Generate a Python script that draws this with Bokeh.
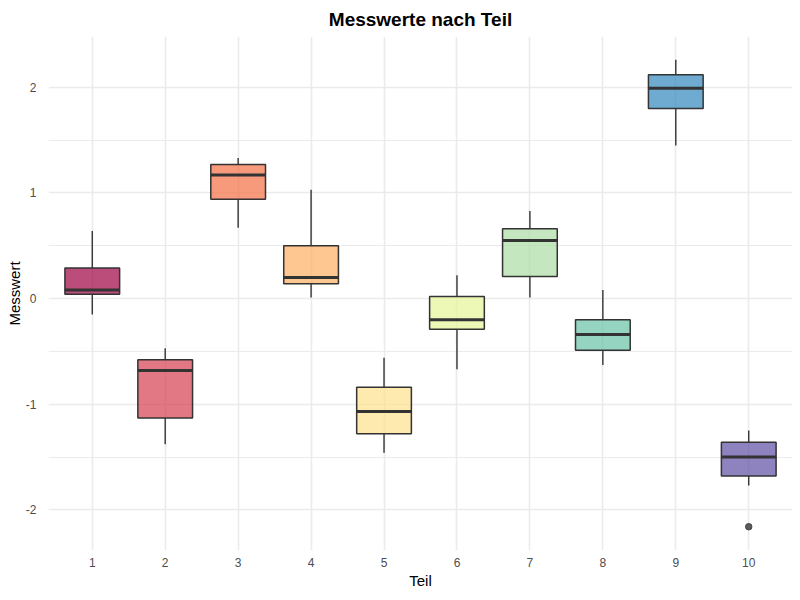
from bokeh.plotting import figure
from bokeh.models import Range1d, FixedTicker, ColumnDataSource, PrintfTickFormatter
from bokeh.embed import file_html
from bokeh.resources import INLINE

# Summary statistics per part (Teil)
teile = [1, 2, 3, 4, 5, 6, 7, 8, 9, 10]
whisker_low = [-0.15, -1.38, 0.67, 0.01, -1.46, -0.67, 0.01, -0.63, 1.45, -1.77]
q1 = [0.04, -1.13, 0.94, 0.14, -1.28, -0.29, 0.21, -0.49, 1.80, -1.68]
median = [0.08, -0.68, 1.17, 0.20, -1.07, -0.20, 0.55, -0.34, 1.99, -1.50]
q3 = [0.29, -0.58, 1.27, 0.50, -0.84, 0.02, 0.66, -0.20, 2.12, -1.36]
whisker_high = [0.64, -0.47, 1.33, 1.03, -0.56, 0.22, 0.83, 0.08, 2.26, -1.25]
outlier_teil = [10]
outlier_wert = [-2.16]
farben = ["#9E0142", "#D53E4F", "#F46D43", "#FDAE61", "#FEE08B",
          "#E6F598", "#ABDDA4", "#66C2A5", "#3288BD", "#5E4FA2"]

box_width = 0.75
half = box_width / 2

src = ColumnDataSource(dict(
    x=teile, low=whisker_low, q1=q1, med=median, q3=q3, high=whisker_high,
    left=[t - half for t in teile], right=[t + half for t in teile],
    color=farben,
))

p = figure(width=800, height=600, output_backend="svg", toolbar_location=None,
           x_range=Range1d(0.4, 10.6), y_range=Range1d(-2.385, 2.481),
           min_border_left=48, min_border_right=8, min_border_top=36,
           min_border_bottom=50)

p.background_fill_color = "white"
p.border_fill_color = "white"
p.outline_line_color = None

# Title
p.title.text = "Messwerte nach Teil"
p.title.align = "center"
p.title.text_font = "Liberation Sans"
p.title.text_font_size = "19px"
p.title.text_font_style = "bold"
p.title.text_color = "black"
p.title.standoff = 13

# Axes
for ax in (p.xaxis[0], p.yaxis[0]):
    ax.axis_line_color = None
    ax.major_tick_line_color = None
    ax.minor_tick_line_color = None
    ax.major_label_text_font = "Liberation Sans"
    ax.major_label_text_font_size = "12px"
    ax.major_label_text_color = "#4D4D4D"
    ax.axis_label_text_font = "Liberation Sans"
    ax.axis_label_text_font_size = "15px"
    ax.axis_label_text_font_style = "normal"
    ax.axis_label_text_color = "black"

p.xaxis.major_label_standoff = 1
p.xaxis.axis_label_standoff = 2
p.yaxis.major_label_standoff = 6
p.yaxis.axis_label_standoff = 0

p.xaxis.axis_label = "Teil"
p.yaxis.axis_label = "Messwert"
p.xaxis.ticker = FixedTicker(ticks=teile)
p.yaxis.ticker = FixedTicker(ticks=[-2, -1, 0, 1, 2], minor_ticks=[-2.5, -1.5, -0.5, 0.5, 1.5, 2.5])
p.yaxis.formatter = PrintfTickFormatter(format="%d")

# Grid
p.xgrid.grid_line_color = "#EBEBEB"
p.xgrid.grid_line_width = 1.6
p.ygrid.grid_line_color = "#EBEBEB"
p.ygrid.grid_line_width = 1.6
p.ygrid.minor_grid_line_color = "#EBEBEB"
p.ygrid.minor_grid_line_width = 1.0

# Whiskers
p.segment(x0="x", y0="q3", x1="x", y1="high", source=src, line_color="#333333", line_width=1.4)
p.segment(x0="x", y0="low", x1="x", y1="q1", source=src, line_color="#333333", line_width=1.4)

# Boxes
p.quad(left="left", right="right", bottom="q1", top="q3", source=src,
       fill_color="color", fill_alpha=0.7, line_color="#333333", line_width=1.5)

# Medians
p.segment(x0="left", y0="med", x1="right", y1="med", source=src,
          line_color="#333333", line_width=3)

# Outliers
p.scatter(x=outlier_teil, y=outlier_wert, size=6.5, fill_color="#333333",
          line_color="#333333", fill_alpha=0.8, line_alpha=0.8)

open("out.html", "w").write(file_html(p, INLINE))
